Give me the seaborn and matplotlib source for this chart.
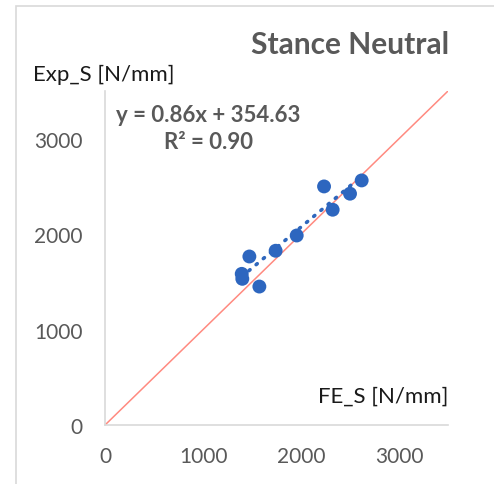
import numpy as np
import pandas as pd
import seaborn as sns
import matplotlib.pyplot as plt
from matplotlib.patches import Rectangle

# data
fe_s = [2619, 2500, 2235, 2323, 1956, 1741, 1473, 1395, 1401, 1575]
exp_s = [2563, 2424, 2500, 2256, 1986, 1826, 1766, 1584, 1532, 1451]
slope = 0.86
intercept = 354.63
r2 = 0.90
ticks = [0, 1000, 2000, 3000]
limit = 3500

df = pd.DataFrame({'FE_S': fe_s, 'Exp_S': exp_s})

sns.set_style("white")
plt.rcParams['font.family'] = ['Lato', 'DejaVu Sans']

fig = plt.figure(figsize=(4.94, 4.85), dpi=100)
ax = fig.add_axes([0.2126, 0.1216, 0.6943, 0.6887])

# light frame of the chart area (cropped on right/bottom)
fig.patches.append(Rectangle((16 / 494, -0.1), 1.2, 1 - 7 / 485 + 0.1,
                             transform=fig.transFigure, fill=False,
                             edgecolor='#d9d9d9', linewidth=1.2))

# y = x reference line
ax.plot([0, limit], [0, limit], color='#ff8a80', linewidth=1.1, zorder=1)

# trendline
tx = np.array([min(fe_s), max(fe_s)])
ax.plot(tx, slope * tx + intercept, color='#2f67bd', linewidth=2.6,
        linestyle=(0, (0.4, 2.2)), dash_capstyle='round', zorder=2)

sns.scatterplot(data=df, x='FE_S', y='Exp_S', ax=ax, s=100, color='#2d66bf',
                edgecolor='none', zorder=3)

ax.set_xlim(0, limit)
ax.set_ylim(0, limit)
ax.set_xticks(ticks)
ax.set_yticks(ticks)
ax.tick_params(length=0, labelsize=15, colors='#595959')
ax.tick_params(axis='y', pad=16)
ax.tick_params(axis='x', pad=15)
ax.set_xlabel('')
ax.set_ylabel('')
for side in ['top', 'right']:
    ax.spines[side].set_visible(False)
for side in ['left', 'bottom']:
    ax.spines[side].set_color('#d9d9d9')
    ax.spines[side].set_linewidth(1.2)

fig.text(350 / 494, 1 - 45 / 485, 'Stance Neutral', fontsize=21.5, fontweight='bold',
         color='#595959', ha='center', va='center')
fig.text(33 / 494, 1 - 75 / 485, 'Exp_S [N/mm]', fontsize=16, color='#1a1a1a',
         ha='left', va='center')
fig.text(448 / 494, 1 - 397 / 485, 'FE_S [N/mm]', fontsize=16, color='#1a1a1a',
         ha='right', va='center')
fig.text(208 / 494, 1 - 129 / 485,
         f'y = {slope:.2f}x + {intercept:.2f}\nR² = {r2:.2f}',
         fontsize=16, fontweight='bold', color='#595959', ha='center',
         va='center', multialignment='center', linespacing=1.4)

fig.savefig('out.png', dpi=100)
